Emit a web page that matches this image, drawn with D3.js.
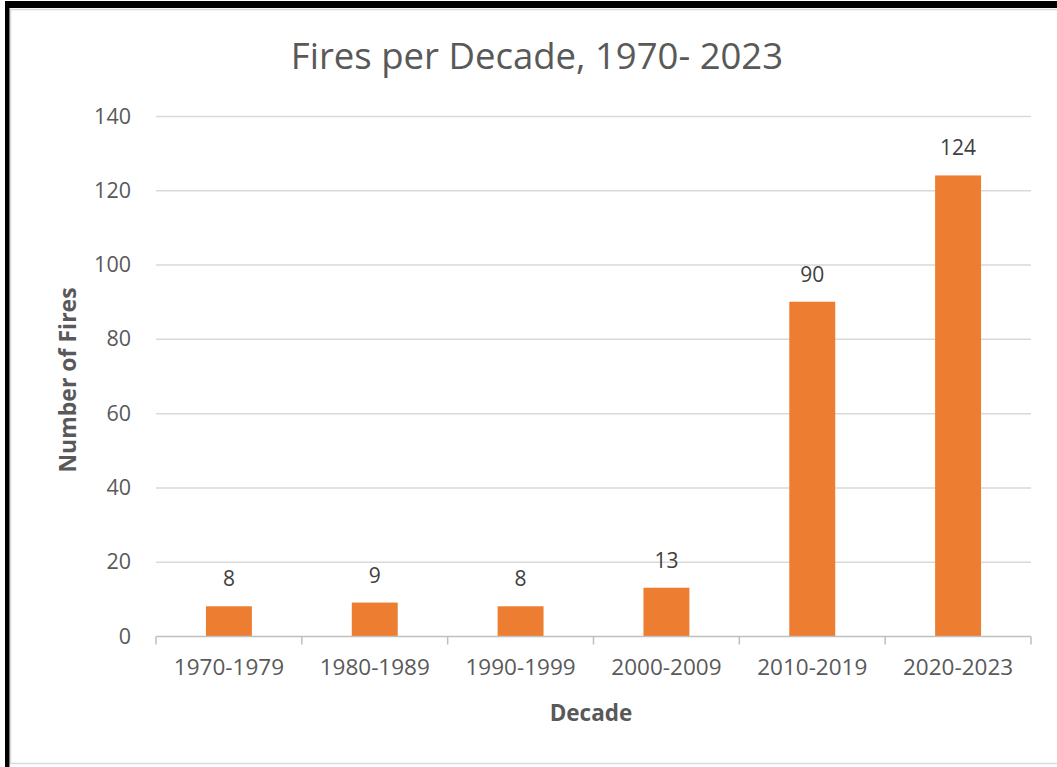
<!DOCTYPE html>
<html>
<head>
<meta charset="utf-8">
<script src="https://cdn.jsdelivr.net/npm/d3@7"></script>
<style>
  body { margin: 0; background: #fff; }
  text { font-family: 'Open Sans', sans-serif; }
</style>
</head>
<body>
<svg id="chart" width="1057" height="767"></svg>
<script>
const decades = ['1970-1979', '1980-1989', '1990-1999', '2000-2009', '2010-2019', '2020-2023'];
const fires = [8, 9, 8, 13, 90, 124];
const yTicks = [0, 20, 40, 60, 80, 100, 120, 140];

const svg = d3.select('#chart');
const width = +svg.attr('width');
const height = +svg.attr('height');

const barColor = '#ED7D31';
const gridColor = '#d9d9d9';
const textColor = '#595959';

// frame: black top/left, thin grey inner line
svg.append('rect')
  .attr('x', 0).attr('y', 0).attr('width', width).attr('height', height)
  .attr('fill', '#fff');
svg.append('rect')
  .attr('x', 10.5).attr('y', 9.5).attr('width', width - 8).attr('height', height - 13)
  .attr('fill', 'none').attr('stroke', '#d9d9d9').attr('stroke-width', 1.5);
svg.append('rect').attr('x', 5).attr('y', 1).attr('width', width - 5).attr('height', 7).attr('fill', '#000');
svg.append('rect').attr('x', 5).attr('y', 1).attr('width', 4.5).attr('height', height - 1).attr('fill', '#000');

const margin = { left: 156, right: 26, top: 116, bottom: 131 };

const x = d3.scaleBand()
  .domain(decades)
  .range([margin.left, width - margin.right])
  .paddingInner(0.685)
  .paddingOuter(0.3425);

const y = d3.scaleLinear()
  .domain([0, 140])
  .range([height - margin.bottom, margin.top]);

// gridlines
svg.append('g')
  .selectAll('line')
  .data(yTicks.slice(1))
  .join('line')
  .attr('x1', margin.left).attr('x2', width - margin.right)
  .attr('y1', d => y(d) + 0.5).attr('y2', d => y(d) + 0.5)
  .attr('stroke', gridColor).attr('stroke-width', 1.5);

// y axis labels
svg.append('g')
  .selectAll('text')
  .data(yTicks)
  .join('text')
  .attr('x', 131)
  .attr('y', d => y(d))
  .attr('dy', '0.35em')
  .attr('text-anchor', 'end')
  .attr('font-size', 21.5)
  .attr('fill', textColor)
  .text(d => d);

// bars
svg.append('g')
  .selectAll('rect')
  .data(fires)
  .join('rect')
  .attr('x', (d, i) => x(decades[i]))
  .attr('y', d => y(d))
  .attr('width', x.bandwidth())
  .attr('height', d => y(0) - y(d))
  .attr('fill', barColor);

// value labels
svg.append('g')
  .selectAll('text')
  .data(fires)
  .join('text')
  .attr('x', (d, i) => x(decades[i]) + x.bandwidth() / 2)
  .attr('y', d => y(d) - 20)
  .attr('text-anchor', 'middle')
  .attr('font-size', 21)
  .attr('fill', '#404040')
  .text(d => d);

// x axis
const xAxis = d3.axisBottom(x).tickSize(0).tickPadding(0);
const gx = svg.append('g')
  .attr('transform', `translate(0,${y(0) + 0.5})`);
gx.append('line')
  .attr('x1', margin.left).attr('x2', width - margin.right)
  .attr('stroke', '#bfbfbf').attr('stroke-width', 1.5);
const step = x.step();
gx.selectAll('.sep')
  .data(d3.range(decades.length + 1))
  .join('line')
  .attr('class', 'sep')
  .attr('x1', i => margin.left + i * step).attr('x2', i => margin.left + i * step)
  .attr('y1', 0).attr('y2', 8)
  .attr('stroke', '#bfbfbf').attr('stroke-width', 1.5);
gx.call(xAxis);
gx.select('.domain').remove();
gx.selectAll('.tick text')
  .attr('y', 31)
  .attr('dy', '0.35em')
  .attr('font-family', "'Open Sans', sans-serif")
  .attr('font-size', 22.5)
  .attr('fill', textColor);

// title
svg.append('text')
  .attr('x', 537)
  .attr('y', 69)
  .attr('text-anchor', 'middle')
  .attr('font-size', 36.5)
  .attr('fill', textColor)
  .text('Fires per Decade, 1970- 2023');

// axis titles
svg.append('text')
  .attr('x', 591)
  .attr('y', 721)
  .attr('text-anchor', 'middle')
  .attr('font-size', 22.5)
  .attr('font-weight', 'bold')
  .attr('fill', textColor)
  .text('Decade');

svg.append('text')
  .attr('transform', 'translate(76,380) rotate(-90)')
  .attr('text-anchor', 'middle')
  .attr('font-size', 23)
  .attr('font-weight', 'bold')
  .attr('fill', textColor)
  .text('Number of Fires');
</script>
</body>
</html>
